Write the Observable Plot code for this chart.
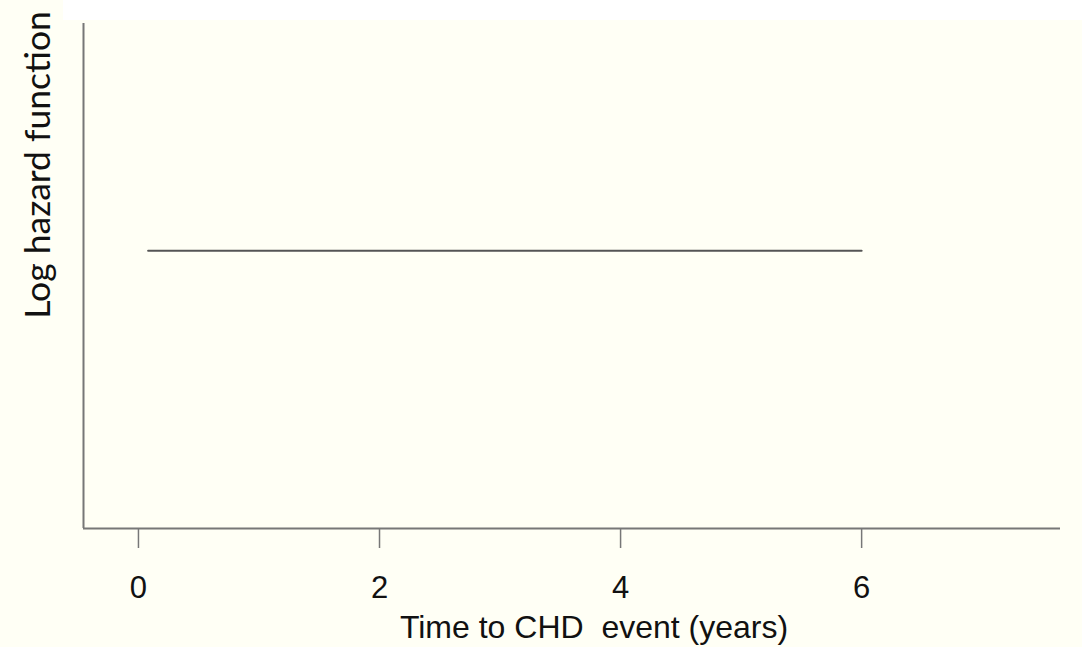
<!DOCTYPE html>
<html>
<head>
<meta charset="utf-8">
<script src="https://cdn.jsdelivr.net/npm/d3@7"></script>
<script src="https://cdn.jsdelivr.net/npm/@observablehq/plot@0.6"></script>
<style>
  html, body { margin: 0; padding: 0; background: #fffff5; }
  #wrap { position: relative; width: 1082px; height: 647px; overflow: hidden; }
  #strip { position: absolute; left: 63px; top: 0; width: 1019px; height: 20px; background: #ffffff; }
  #chart { position: absolute; left: 0; top: 0; }
</style>
</head>
<body>
<div id="wrap">
  <div id="chart"></div>
  <div id="strip"></div>
</div>
<script>
// Data
const times = [0.08, 6];
const logHazard = [0.55, 0.55];
const xTicks = [0, 2, 4, 6];
const xLabel = "Time to CHD\u00a0 event (years)";
const yLabel = "Log hazard function";

const data = times.map((t, i) => ({time: t, h: logHazard[i]}));
const xDomain = [-0.456, 7.65];
const yDomain = [0, 1];

const chart = Plot.plot({
  width: 1082,
  height: 647,
  marginLeft: 83,
  marginRight: 22,
  marginTop: 23,
  marginBottom: 119,
  style: {background: "transparent", fontFamily: "'Liberation Sans', Arial, Helvetica, sans-serif"},
  x: {domain: xDomain},
  y: {domain: yDomain, axis: null},
  marks: [
    Plot.ruleY([yDomain[0]], {stroke: "#777", strokeWidth: 2}),
    Plot.ruleX([xDomain[0]], {stroke: "#777", strokeWidth: 2}),
    Plot.line(data, {x: "time", y: "h", stroke: "#555", strokeWidth: 2}),
    Plot.axisX({
      ticks: xTicks,
      tickFormat: d => String(d),
      tickSize: 20,
      tickPadding: 27,
      fontSize: 31,
      stroke: "#777",
      strokeWidth: 1.5,
      fill: "#111",
      label: null
    }),
    Plot.text([xLabel], {
      text: d => d,
      frameAnchor: "bottom",
      textAnchor: "middle",
      lineAnchor: "top",
      dx: 22,
      dy: 87,
      fontSize: 32,
      fill: "#111"
    }),
    Plot.text([yLabel], {
      text: d => d,
      frameAnchor: "left",
      textAnchor: "middle",
      rotate: -90,
      dx: -45,
      dy: -111,
      fontSize: 35.5,
      fontFamily: "Lato, 'Open Sans', sans-serif",
      fill: "#111"
    })
  ]
});
document.getElementById("chart").appendChild(chart);
</script>
</body>
</html>
